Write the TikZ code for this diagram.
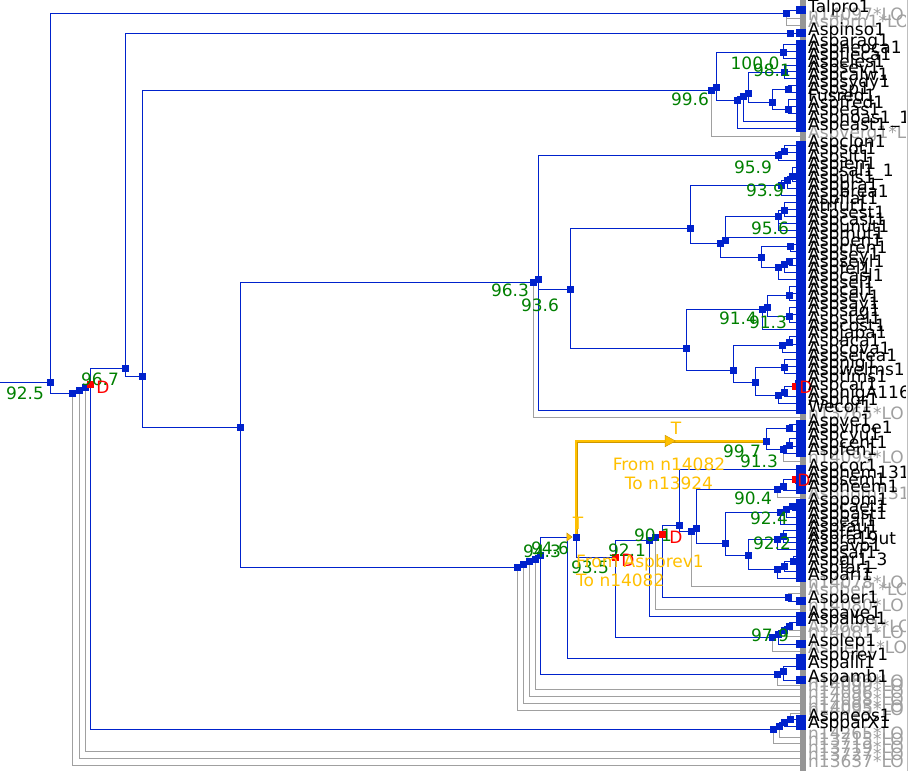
\documentclass[tikz,border=0pt]{standalone}
\usepackage{fontspec}
\setmainfont{DejaVu Sans}
\usetikzlibrary{arrows.meta, decorations.markings}
\definecolor{brb}{RGB}{0,34,204}
\definecolor{brg}{RGB}{160,160,160}
\definecolor{barg}{RGB}{150,150,150}
\definecolor{bsg}{RGB}{0,128,0}
\definecolor{dup}{RGB}{255,0,0}
\definecolor{trf}{RGB}{255,192,0}
\definecolor{trfd}{RGB}{205,150,0}
\newcommand{\fsz}{\fontsize{17}{19}\selectfont}
% internal nodes: name/x/y (screen pixels)
\newcommand{\treenodes}{R0/50/382, a1/786/13, N1/72/393, N2/79/390, N3/85/387, N5/125/368,
  N6/142/376, c1/790/33, N7/711/90, N7b/716/87, d1/783/52, d2/737/100, d3/743/96, d4/748/93,
  d5/784/72, d6/772/102, d7/788/89, d8/788/109, N8/240/427, N9/533/282, N9b/538/279,
  e1/778/155, e2/784/151, N11/570/289, N12/690/228, f1/781/185, f1b/787/180, f1c/792/176,
  f2/720/243, f3/725/240, f5/778/216, f5b/784/210, f4/761/257, f6/790/246, f7/778/267,
  f7b/784/264, f7c/789/261, N13/686/348, v1/762/309, v2/767/307, v3/789/295, v4/789/316,
  w1/733/370, w2/782/345, w2b/789/342, w3/755/382, w4/784/367, w5/778/395, w6/784/392,
  g1/517/567, g2/523/564, g3/529/561, g4/535/559, g5/540/555, h1/777/674, h2/783/671,
  k1/576/537, k3/649/540, k3b/655/537, r1/679/525, r2/691/531, r3/696/528, s1/777/489,
  s2/783/486, t1/725/543, u1/780/512, u2/786/509, u3/792/506, u5/748/555, u7/777/539,
  u9/783/536, u8/777/569, u10/784/566, u11/793/561, q1/788/597, p1/772/637, p2/778/634,
  p3/784/630, p4/789/626, m1/766/441, m2/789/428, m3/783/449, m4/789/445, b1/773/729,
  b2/779/726, b3/784/722, b4/790/719}
\newcommand{\dupnodes}{N4/90/384, w7/795/386, k2/615/557, k4/662/534, s3/795/479}
% leaves: y/label
\newcommand{\blackleaves}{10/Talpro1, 33/Aspinso1, 44/Asparag1, 51/Aspneoca1, 58/Aspfleca1,
  65/Aspeles1, 71/Aspsev1, 78/Aspcalw1, 85/Aspsydy1, 92/Aspsp1, 99/Fusred1, 106/Aspfred1,
  113/Aspeas1, 121/Aspnoas1\_1, 128/Aspeast1, 145/Aspclon1, 152/Aspsot1, 160/Aspsit1,
  167/Aspjen1, 174/Aspsal1\_1, 181/Aspuls1, 188/Aspbra1, 195/Aspbrea1, 202/Aspflat1,
  209/Atrfut1, 216/Aspsest1, 223/Aspcast1, 230/Aspunut1, 237/Aspmut1, 244/Asppen1,
  251/Aspcren1, 258/Aspsey1, 265/Aspseyl1, 272/Aspfel1, 279/Aspcasl1, 286/Aspsel1,
  293/Aspcal1, 300/Aspsev1, 307/Aspsay1, 314/Aspsag1, 322/Aspstel1, 329/Aspcost1,
  336/Aspjapa1, 344/Aspaca1, 352/Aspcova1, 359/Aspsetea1, 366/Aspnig1, 373/Aspwelms1,
  380/Asptims1, 388/Aspcar1, 396/AspnigA116, 403/Asphor1, 410/Wecor1, 424/Aspve1,
  431/Aspviroe1, 438/Aspcyu1, 446/Aspcent1, 453/Aspfen1, 469/Aspcor1, 476/Asphem131,
  483/Aspsem1, 490/Aspheem1, 503/Asppom1, 510/Aspcaet1, 517/Aspbast1, 524/Aspeal1,
  530/Asprau1, 537/Aspfra1, 542/Aspra19ut, 549/Aspavo1, 556/Aspsar1, 563/Aspgr1\_3,
  571/Aspfar1, 578/Aspari1, 601/Aspber1, 616/Aspave1, 622/Aspalbe1, 644/Asplep1,
  658/Aspbrev1, 666/Aspalli1, 680/Aspamb1, 719/Aspneos1, 726/AspparX1}
\newcommand{\grayleaves}{18/n14097*LO, 25/Aspbrn1*LO, 136/Aspverg1*LO, 417/n13765*LO,
  461/n14099*LO, 497/Asphom131, 586/n14078*LO, 593/Aspber1*LO, 609/n14080*LO,
  630/Aspoch1*LO, 636/n14081*LO, 651/Asplep1*LO, 685/n14089*LO, 689/n14090*LO,
  696/n14096*LO, 703/n14098*LO, 710/n14093*LO, 713/n14095*LO, 737/n14265*LO,
  743/n13715*LO, 751/n13719*LO, 758/n13727*LO, 765/n13637*LO}
\tikzset{
  br/.style={draw=brb, line width=0.9pt},
  bg/.style={draw=brg, line width=0.9pt},
  nd/.style={fill=brb, minimum size=7pt, inner sep=0pt},
  ndr/.style={nd, fill=dup},
  tr/.style={draw=trfd, double=trf, double distance=1.4pt, line width=0.8pt},
  bs/.style={text=bsg, font=\fsz, inner sep=0pt},
  dl/.style={text=dup, font=\fsz, inner sep=0pt},
  tl/.style={text=trf, font=\fsz, inner sep=0pt},
  lf/.style={anchor=mid west, font=\fsz, inner sep=0pt},
  lfg/.style={lf, text=brg},
}

\begin{document}
\begin{tikzpicture}[x=1pt, y=-1pt]
\fill[white] (0,0) rectangle (917,771);
\useasboundingbox (0,0) rectangle (917,771);

\coordinate (in) at (0,382);
\coordinate (k0) at (567,537);
\foreach \n/\x/\y in \treenodes {\coordinate (\n) at (\x,\y);}
\foreach \n/\x/\y in \dupnodes {\coordinate (\n) at (\x,\y);}
\foreach \y/\t in \blackleaves {\coordinate (L\y) at (800,\y);}
\foreach \y/\t in \grayleaves {\coordinate (L\y) at (800,\y);}

% lost branches
\foreach \p/\c in {a1/L18, a1/L25, N7/L136, N9/L417, m3/L461, s1/L497, r2/L586, q1/L593,
  k3b/L609, p4/L630, p3/L636, p1/L651, h1/L685, g4/L689, g3/L696, g2/L703, g1/L710,
  b4/L713, b2/L737, b1/L743, N3/L751, N2/L758, N1/L765}
  \draw[bg] (\p) |- (\c);

% kept branches
\draw[br] (in) -- (R0);
\foreach \p/\c in {R0/a1, R0/N1, N1/N2, N2/N3, N3/N4, N4/N5, N4/b1, N5/c1, N5/N6, N6/N7,
  N6/N8, N7/N7b, N7b/d1, N7b/d2, d2/d3, d3/d4, d4/d5, d4/d6, d6/d7, d6/d8, N8/N9, N8/g1,
  N9/N9b, N9b/e1, N9b/N11, N9b/L410, e1/e2, N11/N12, N11/N13, N12/f1, N12/f2, f1/f1b,
  f1b/f1c, f2/f3, f2/f4, f3/f5, f5/f5b, f4/f6, f4/f7, f7/f7b, f7b/f7c, N13/v1, N13/w1,
  v1/v2, v2/v3, v2/v4, w1/w2, w1/w3, w2/w2b, w3/w4, w3/w5, w5/w6, w6/w7, g1/g2, g2/g3,
  g3/g4, g4/g5, g5/h1, g5/k0, h1/h2, k1/k2, k2/k3, k2/p1, k3/k3b, k3b/k4, k4/r1, k4/q1,
  r1/r2, r2/r3, r3/s1, r3/t1, s1/s2, s2/s3, t1/u1, t1/u5, u1/u2, u2/u3, u5/u7, u5/u8,
  u7/u9, u8/u10, u10/u11, m1/m2, m1/m3, m3/m4, p1/p2, p2/p3, p3/p4, b1/b2, b2/b3, b3/b4}
  \draw[br] (\p) |- (\c);
\foreach \p/\c in {a1/L10, c1/L33, d1/L44, d1/L51, d1/L58, d5/L65, d5/L71, d5/L78, d7/L85,
  d7/L92, d8/L99, d8/L106, d8/L113, d3/L121, d2/L128, e2/L145, e2/L152, e1/L160, f1c/L167,
  f1c/L174, f1c/L181, f1b/L188, f1/L195, f5b/L202, f5b/L209, f5b/L216, f5/L223, f5/L230,
  f3/L237, f6/L244, f6/L251, f7c/L258, f7c/L265, f7b/L272, f7/L279, v3/L286, v3/L293,
  v3/L300, v4/L307, v4/L314, v4/L322, v1/L329, w2b/L336, w2b/L344, w2/L352, w4/L359,
  w4/L366, w4/L373, w7/L380, w7/L388, w6/L396, w5/L403, m2/L424, m2/L431, m4/L438,
  m4/L446, m3/L453, r1/L469, s3/L476, s3/L483, s2/L490, u3/L503, u3/L510, u2/L517,
  u1/L524, u9/L530, u9/L537, u9/L542, u7/L549, u11/L556, u11/L563, u10/L571, u8/L578,
  q1/L601, k3/L616, p4/L622, p2/L644, k0/L658, h2/L666, h2/L680, b4/L719, b3/L726}
  \draw[br] (\p) |- (\c);

% transfers
\draw[tr] (k1) |- (m1);
\path[postaction={decorate}, decoration={markings, mark=at position 0.685 with
  {\arrow{Triangle[length=11pt, width=12pt, fill=trf, color=trfd]}}}] (k1) |- (m1);
\draw[trfd, line width=0.6pt, shorten >=3.5pt,
  -{Triangle[length=6pt, width=9pt, fill=trf]}] (k0) -- (k1);

\foreach \n/\x/\y in \treenodes {\node[nd] at (\n) {};}
\foreach \n/\x/\y in \dupnodes {\node[ndr] at (\n) {};}

% leaf bar
\fill[barg] (800,0) rectangle (806,771);
\foreach \y/\t in \blackleaves {\fill[brb] (796,\y-4) rectangle (806,\y+4);}

% support values
\foreach \x/\y/\t [count=\i] in {25/393/92.5, 100/379/96.7, 690/99/99.6, 755/63/100.0,
  772/70/98.1, 753/167/95.9, 765/190/93.9, 770/228/95.6, 510/290/96.3, 540/305/93.6,
  738/318/91.4, 768/322/91.3, 742/451/99.7, 759/461/91.3, 753/498/90.4, 769/518/92.4,
  772/543/92.2, 653/535/90.1, 627/550/92.1, 590/567/93.5, 542/551/94.3, 550/548/94.6,
  770/635/97.9}
  \node[bs] (bs\i) at (\x,\y) {\t};
\foreach \x/\y [count=\i] in {103/387, 628/560, 676/537, 806/387, 804/480}
  \node[dl] (dl\i) at (\x,\y) {D};

\node[tl] (t1lab) at (676,428) {T};
\node[tl] (t2lab) at (578,523) {T};
\node[tl, align=center] (t1txt) at (669,474) {From n14082\\To n13924};
\node[tl, align=left, anchor=west] (t2txt) at (576,571) {From Aspbrev1\\To n14082};

% leaf names
\begin{scope}
\clip (0,0) rectangle (905,771);
\foreach \y/\t in \grayleaves {\node[lfg] (lg\y) at (808,\y) {\t};}
\foreach \y/\t in \blackleaves {\node[lf] (lb\y) at (808,\y) {\t};}
\end{scope}
\draw[gray!50] (907,0) -- (907,771);
\end{tikzpicture}
\end{document}
